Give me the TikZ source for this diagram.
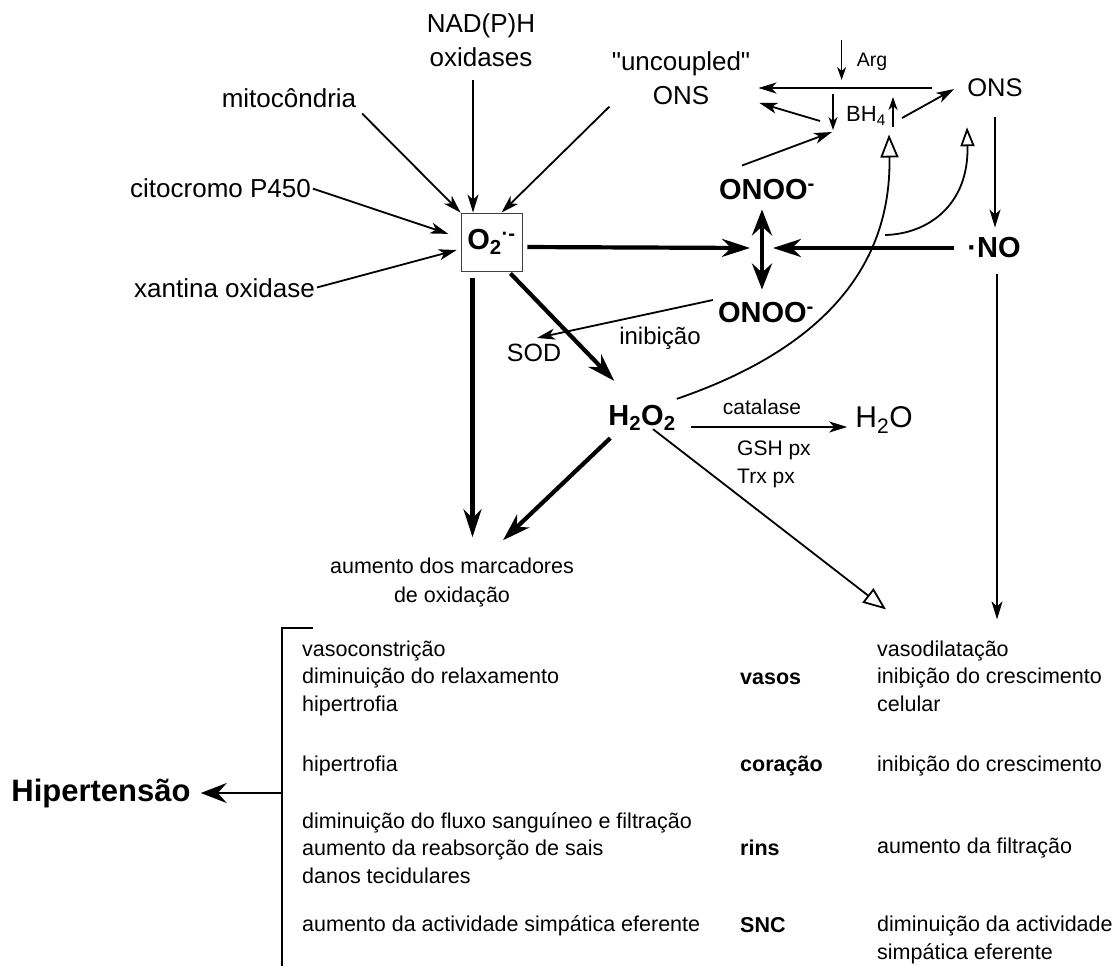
\documentclass[tikz,border=0pt]{standalone}
\usepackage{fontspec}
\setmainfont{Liberation Sans}[Ligatures=TeXOff]
\usetikzlibrary{arrows.meta,calc}
\newcommand{\fsz}[2]{\fontsize{#1}{#2}\selectfont}
\begin{document}
\begin{tikzpicture}[x=1pt,y=-1pt,
  lab/.style={inner sep=0pt, font=\fsz{26}{33.5}, align=center},
  sml/.style={inner sep=0pt, font=\fsz{21.5}{27.5}, align=left},
  chem/.style={inner sep=0pt, font=\fsz{29}{34}\bfseries},
  org/.style={inner sep=0pt, font=\fsz{21.5}{28}\bfseries, anchor=west},
  thinar/.style={line width=1.8pt, -{Stealth[length=18pt,width=11pt,inset=5pt]}},
  tinyar/.style={line width=1.5pt, -{Stealth[length=13pt,width=9pt,inset=4pt]}},
  thickar/.style={line width=4.2pt, -{Stealth[length=28pt,width=18pt,inset=9pt]}},
  openar/.style={line width=1.8pt, -{Triangle[open,length=23pt,width=18pt]}},
  openars/.style={line width=1.8pt, -{Triangle[open,length=19pt,width=14pt]}},
]
\useasboundingbox (0,0) rectangle (1115,966);

% ---- nodes ----
\node[lab] (nadph) at (481,40) {NAD(P)H\\oxidases};
\node[lab] (mito) at (289,98) {mitocôndria};
\node[lab] (unc) at (681,78) {"uncoupled"\\ONS};
\node[lab] (cito) at (220.5,188) {citocromo P450};
\node[lab] (xant) at (224.5,288) {xantina oxidase};
\node[draw=black!75, line width=0.8pt, minimum width=61pt, minimum height=58pt,
      inner sep=0pt, font=\fsz{29}{34}\bfseries] (o2) at (491.5,242)
      {O\textsubscript{2}\textsuperscript{·-}};
\node[chem] (onoo1) at (767,190) {ONOO\textsuperscript{-}};
\node[chem] (onoo2) at (766,313) {ONOO\textsuperscript{-}};
\node[chem] (no) at (994,248) {·NO};
\node[lab, font=\fsz{25.5}{30}] (ons) at (995,88) {ONS};
\node[lab, font=\fsz{19.5}{24}] (arg) at (872,62) {Arg};
\node[lab, font=\fsz{22}{26}] (bh4) at (866,116) {BH\textsubscript{4}};
\node[lab, font=\fsz{25}{30}] (sod) at (534,353) {SOD};
\node[lab, font=\fsz{24}{30}] (inib) at (660,338) {inibição};
\node[chem] (h2o2) at (642,418) {H\textsubscript{2}O\textsubscript{2}};
\node[lab, font=\fsz{30}{34}] (h2o) at (884,420) {H\textsubscript{2}O};
\node[lab, font=\fsz{21}{28}] (cat) at (762,407) {catalase};
\node[sml, font=\fsz{21}{28}, anchor=west] (gsh) at (737,464) {GSH px\\Trx px};
\node[lab, font=\fsz{21.5}{29}] (marc) at (452,582) {aumento dos marcadores\\de oxidação};
\node[inner sep=0pt, font=\fsz{31}{34}\bfseries] (hip) at (101,793) {Hipertensão};

\node[sml, anchor=west] (vasL) at (302,678) {vasoconstrição\\diminuição do relaxamento\\hipertrofia};
\node[sml, anchor=west] (corL) at (302,766) {hipertrofia};
\node[sml, anchor=west] (rinL) at (302,848) {diminuição do fluxo sanguíneo e filtração\\aumento da reabsorção de sais\\danos tecidulares};
\node[sml, anchor=west] (sncL) at (302,926) {aumento da actividade simpática eferente};

\node[org] (vasos) at (740,679) {vasos};
\node[org] (cor) at (740,766) {coração};
\node[org] (rins) at (740,848) {rins};
\node[org] (snc) at (740,925) {SNC};

\node[sml, anchor=west] (vasR) at (877,676) {vasodilatação\\inibição do crescimento\\celular};
\node[sml, anchor=west] (corR) at (877,766) {inibição do crescimento};
\node[sml, anchor=west] (rinR) at (877,848) {aumento da filtração};
\node[sml, anchor=west] (sncR) at (877,940) {diminuição da actividade\\simpática eferente};

% ---- sources -> O2 ----
\draw[thinar, shorten <=14pt] ([xshift=-8pt]nadph.south) -- ([xshift=-8pt]nadph.south |- o2.north);
\draw[thinar, shorten <=8pt] (mito.south east) -- (o2.north west);
\draw[thinar, shorten <=2pt, shorten >=13pt] (cito.east) -- ($(o2.west)+(0,-4)$);
\draw[thinar, shorten <=2pt, shorten >=4pt] (xant.east) -- ($(o2.west)+(0,7)$);
\draw[thinar, shorten <=3pt] (unc.south west) -- ($(o2.north)+(10,0)$);

% ---- junction ----
\coordinate (jn) at (762,248);
\draw[thickar, shorten <=5pt] ($(o2.east)+(0,5)$) -- ($(jn)+(-12,0)$);
\draw[thickar, shorten <=13pt] (no.west) -- ($(jn)+(11,0)$);
\draw[line width=4.2pt, {Stealth[length=26pt,width=20pt,inset=9pt]}-{Stealth[length=26pt,width=20pt,inset=9pt]},
      shorten <=9pt, shorten >=13pt] ($(onoo1.south)+(-5,0)$) -- ($(onoo2.north)+(-4,0)$);

% ---- BH4 / ONS cluster ----
\draw[tinyar] ($(arg.west)+(-15,-22)$) -- ($(arg.west)+(-15,18)$);
\draw[thinar, shorten <=35pt] (ons.west) -- ($(unc.east |- ons.west)+(8,0)$);
\draw[thinar] ($(bh4.west)+(-26,5)$) -- ($(unc.east)+(9,25)$);
\draw[tinyar] ($(bh4.west)+(-13,-22)$) -- ($(bh4.west)+(-13,14)$);
\draw[tinyar] ($(bh4.east)+(7,11)$) -- ($(bh4.east)+(7,-19)$);
\draw[thinar] ($(bh4.east)+(16,2)$) -- ($(ons.west)+(-13,1)$);
\draw[thinar] ($(onoo1.north)+(-25,-14)$) -- ($(bh4.west)+(-14,16)$);

% ---- curves with open heads ----
\draw[openar] ($(h2o2.north east)+(1,-6)$) .. controls (790,360) and (892,290) .. ($(bh4.south east)+(3,9)$);
\draw[openars] ($(jn)+(123,-13)$) .. controls (928,234) and (969,205) .. ($(ons.south)+(-28,30)$);

% ---- ONS -> NO -> effects ----
\draw[thinar, shorten <=20pt, shorten >=10pt] (ons.south) -- (ons.south |- no.north);
\draw[thinar, shorten <=16pt, shorten >=21pt] ($(no.south)+(3,0)$) -- ($(no.south |- vasR.north)+(3,0)$);

% ---- O2 downstream ----
\draw[thickar] ($(o2.south)+(-19,7)$) -- ($(o2.south |- marc.north)+(-19,-20)$);
\draw[thickar] ($(o2.south east)+(-12,2)$) -- ($(h2o2.north west)+(6,-24)$);
\draw[thinar] ($(onoo2.west)+(-5,-13)$) -- ($(sod.north)+(3,-6)$);

% ---- H2O2 downstream ----
\draw[thickar] ($(h2o2.south west)+(2,7)$) -- ($(marc.north)+(51,-17)$);
\draw[thinar] ($(h2o2.east)+(15,9)$) -- ($(h2o.west |- h2o2.east)+(-8,9)$);
\draw[openar] ($(h2o2.south)+(11,-2)$) -- ($(vasR.north west)+(9,-31)$);

% ---- bracket ----
\coordinate (bt) at (313,628);
\coordinate (bc) at (282,628);
\coordinate (bb) at (282,966);
\coordinate (bm) at (282,793);
\draw[line width=1.8pt] (bt) -- (bc) -- (bb);
\draw[line width=1.8pt, -{Stealth[length=26pt,width=20pt,inset=9pt]}, shorten >=10pt] (bm) -- (hip.east);
\end{tikzpicture}
\end{document}
